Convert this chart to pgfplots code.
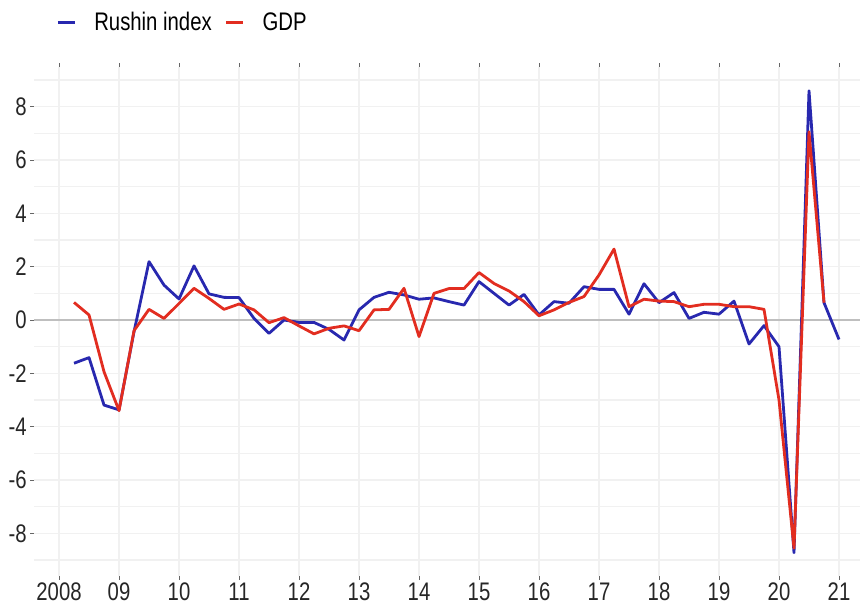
\documentclass[border=0pt]{standalone}
\usepackage{fontspec}
\setmainfont{Liberation Sans}[FakeStretch=0.80]
\usepackage{pgfplots}
\pgfplotsset{compat=1.18}
\definecolor{rblue}{RGB}{40,40,175}
\definecolor{rred}{RGB}{226,45,32}
\definecolor{gridc}{RGB}{241,241,241}
\begin{document}
\begin{tikzpicture}
\path[use as bounding box] (0,0) rectangle (860bp,606bp);
\begin{axis}[
  at={(34bp,30bp)}, anchor=south west,
  scale only axis, width=826bp, height=509bp,
  xmin=2007.583, xmax=2021.35, ymin=-9.6, ymax=9.49,
  axis line style={draw=none},
  xtick={2008,2009,2010,2011,2012,2013,2014,2015,2016,2017,2018,2019,2020,2021},
  xticklabels={2008,09,10,11,12,13,14,15,16,17,18,19,20,21},
  ytick={-8,-6,-4,-2,0,2,4,6,8},
  yticklabels={-8,-6,-4,-2,0,2,4,6,8},
  minor ytick={-9,-7,-5,-3,-1,1,3,5,7,9},
  grid=both,
  major grid style={draw=gridc, line width=1.1bp},
  minor grid style={draw=gridc, line width=1.1bp},
  tick align=outside,
  major tick length=4bp, minor tick length=0pt,
  tick style={draw=black!60, line width=1bp},
  tick label style={font=\fontsize{25.5}{30}\selectfont, text=black!85},
  yticklabel style={inner sep=0pt, xshift=-3bp},
  xticklabel style={inner sep=0pt, yshift=-3bp},
  extra y ticks={0}, extra y tick labels={},
  extra y tick style={grid=major, major grid style={draw=black!25, line width=2.4bp}, major tick length=0pt},
  legend columns=2,
  legend style={at={(axis description cs:0.027,1.088)}, anchor=west, draw=none, fill=none,
    inner sep=0pt, font=\fontsize{25.5}{30}\selectfont, nodes={inner sep=0pt},
    /tikz/every odd column/.append style={column sep=18bp},
    /tikz/every even column/.append style={column sep=13bp}},
  legend image code/.code={\draw[#1] (0bp,0bp) -- (17bp,0bp);},
  every axis plot/.append style={line width=2.8bp, line join=round},
]
\addplot[rblue] coordinates {
(2008.25,-1.62) (2008.5,-1.41) (2008.75,-3.19) (2009.0,-3.37)
(2009.25,-0.44) (2009.5,2.19) (2009.75,1.31) (2010.0,0.79)
(2010.25,2.03) (2010.5,0.98) (2010.75,0.85) (2011.0,0.84)
(2011.25,0.06) (2011.5,-0.5) (2011.75,0.0) (2012.0,-0.09)
(2012.25,-0.09) (2012.5,-0.35) (2012.75,-0.75) (2013.0,0.38)
(2013.25,0.85) (2013.5,1.04) (2013.75,0.94) (2014.0,0.78)
(2014.25,0.83) (2014.5,0.69) (2014.75,0.56) (2015.0,1.44)
(2015.25,1.0) (2015.5,0.56) (2015.75,0.96) (2016.0,0.19)
(2016.25,0.69) (2016.5,0.63) (2016.75,1.25) (2017.0,1.15)
(2017.25,1.15) (2017.5,0.22) (2017.75,1.36) (2018.0,0.65)
(2018.25,1.03) (2018.5,0.06) (2018.75,0.29) (2019.0,0.22)
(2019.25,0.71) (2019.5,-0.9) (2019.75,-0.21) (2020.0,-1.0)
(2020.25,-8.73) (2020.5,8.6) (2020.75,0.65) (2021.0,-0.73)
};
\addlegendentry{Rushin index}
\addplot[rred] coordinates {
(2008.25,0.66) (2008.5,0.19) (2008.75,-1.94) (2009.0,-3.4)
(2009.25,-0.4) (2009.5,0.4) (2009.75,0.06) (2010.0,0.62)
(2010.25,1.19) (2010.5,0.81) (2010.75,0.4) (2011.0,0.6)
(2011.25,0.38) (2011.5,-0.1) (2011.75,0.09) (2012.0,-0.22)
(2012.25,-0.52) (2012.5,-0.31) (2012.75,-0.22) (2013.0,-0.4)
(2013.25,0.38) (2013.5,0.4) (2013.75,1.19) (2014.0,-0.62)
(2014.25,1.0) (2014.5,1.18) (2014.75,1.18) (2015.0,1.78)
(2015.25,1.37) (2015.5,1.09) (2015.75,0.69) (2016.0,0.16)
(2016.25,0.38) (2016.5,0.66) (2016.75,0.88) (2017.0,1.69)
(2017.25,2.66) (2017.5,0.5) (2017.75,0.78) (2018.0,0.71)
(2018.25,0.69) (2018.5,0.5) (2018.75,0.59) (2019.0,0.59)
(2019.25,0.5) (2019.5,0.5) (2019.75,0.4) (2020.0,-3.0)
(2020.25,-8.56) (2020.5,7.06) (2020.75,0.65)
};
\addlegendentry{GDP}
\end{axis}
\end{tikzpicture}
\end{document}
